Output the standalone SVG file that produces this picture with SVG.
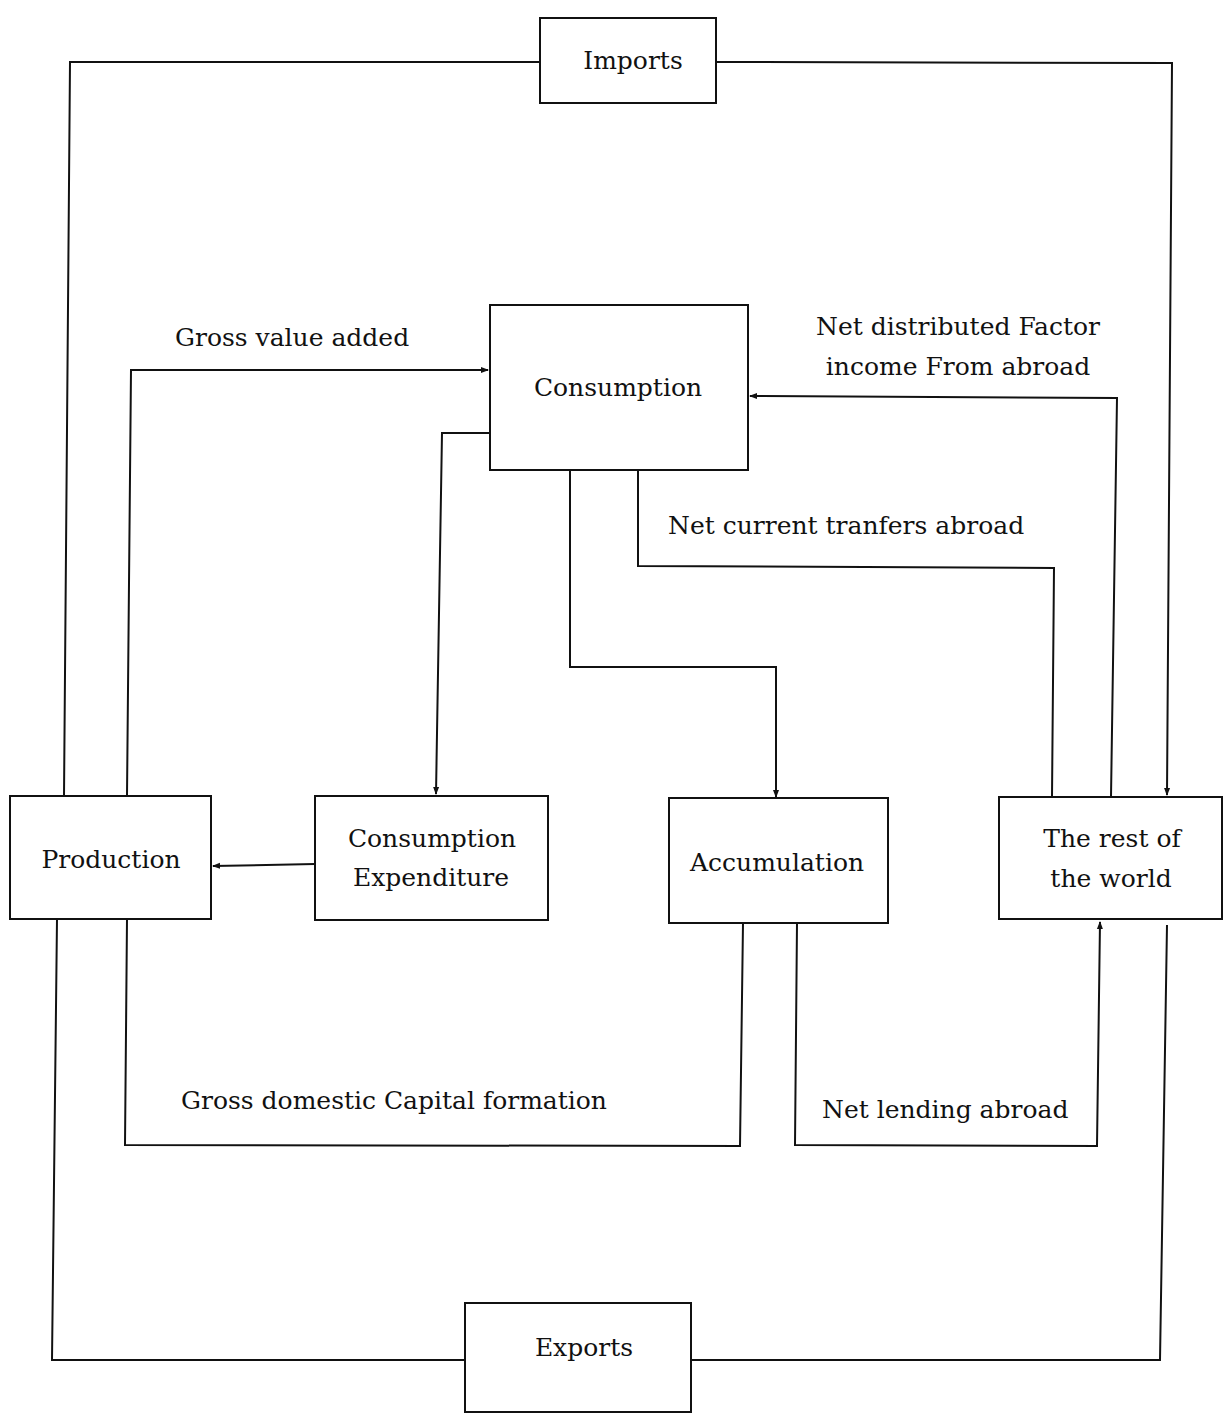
<svg xmlns="http://www.w3.org/2000/svg" width="1224" height="1416" viewBox="0 0 1224 1416">
<style>
.box{fill:#fff;stroke:#111;stroke-width:2}
.ln{fill:none;stroke:#111;stroke-width:2}
.t{font-family:"DejaVu Serif","Liberation Serif",serif;font-size:25px;fill:#111;text-anchor:middle}
.lb{font-family:"DejaVu Serif","Liberation Serif",serif;font-size:25px;fill:#111}
</style>
<defs>
<marker id="ah" markerWidth="8" markerHeight="8" refX="7" refY="4" orient="auto" markerUnits="userSpaceOnUse">
<path d="M0,1 L8,4 L0,7 Z" fill="#111"/>
</marker>
</defs>
<rect width="1224" height="1416" fill="#fff"/>
<g id="connectors">
<polyline class="ln" points="64,796 70,62 540,62"/>
<polyline class="ln" points="716,62 1172,63 1167,795" marker-end="url(#ah)"/>
<polyline class="ln" points="57,919 52,1360 465,1360"/>
<polyline class="ln" points="691,1360 1160,1360 1167,925"/>
<polyline class="ln" points="127,796 131,370 488,370" marker-end="url(#ah)"/>
<polyline class="ln" points="490,433 442,433 436,794" marker-end="url(#ah)"/>
<polyline class="ln" points="570,470 570,667 776,667 776,797" marker-end="url(#ah)"/>
<polyline class="ln" points="638,470 638,566 1054,568 1052,797"/>
<polyline class="ln" points="1111,797 1117,398 750,396" marker-end="url(#ah)"/>
<polyline class="ln" points="315,864 213,866" marker-end="url(#ah)"/>
<polyline class="ln" points="127,919 125,1145 740,1146 743,923"/>
<polyline class="ln" points="797,923 795,1145 1097,1146 1100,922" marker-end="url(#ah)"/>
</g>
<g id="imports"><rect class="box" x="540" y="18" width="176" height="85"/><text class="t" x="633" y="69">Imports</text></g>
<g id="consumption"><rect class="box" x="490" y="305" width="258" height="165"/><text class="t" x="618" y="396">Consumption</text></g>
<g id="production"><rect class="box" x="10" y="796" width="201" height="123"/><text class="t" x="111" y="868">Production</text></g>
<g id="consumption-expenditure"><rect class="box" x="315" y="796" width="233" height="124"/><text class="t" x="432" y="847">Consumption</text><text class="t" x="431" y="886">Expenditure</text></g>
<g id="accumulation"><rect class="box" x="669" y="798" width="219" height="125"/><text class="t" x="777" y="871">Accumulation</text></g>
<g id="rest-of-world"><rect class="box" x="999" y="797" width="223" height="122"/><text class="t" x="1112" y="847">The rest of</text><text class="t" x="1111" y="887">the world</text></g>
<g id="exports"><rect class="box" x="465" y="1303" width="226" height="109"/><text class="t" x="584" y="1356">Exports</text></g>
<g id="labels">
<text class="lb" x="175" y="346">Gross value added</text>
<text class="t" x="958" y="335">Net distributed Factor</text>
<text class="t" x="958" y="375">income From abroad</text>
<text class="lb" x="668" y="534">Net current tranfers abroad</text>
<text class="lb" x="181" y="1109">Gross domestic Capital formation</text>
<text class="lb" x="822" y="1118">Net lending abroad</text>
</g>
</svg>
